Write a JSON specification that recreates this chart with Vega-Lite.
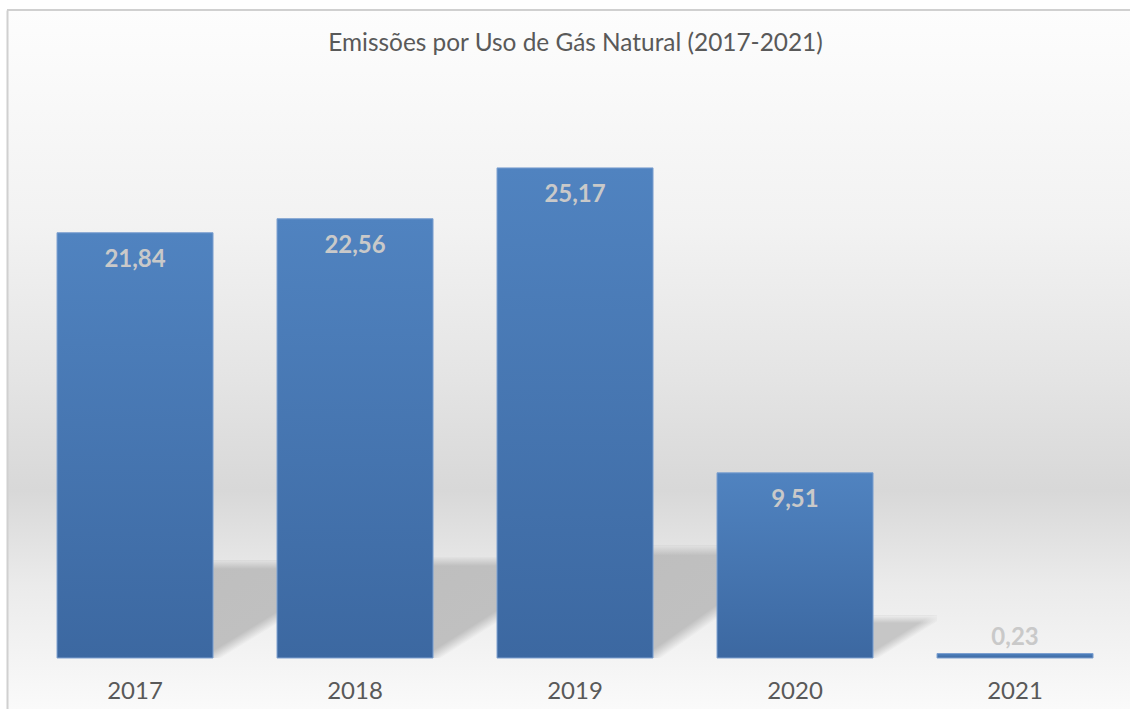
{
  "$schema": "https://vega.github.io/schema/vega-lite/v6.json",
  "width": 1123,
  "height": 699,
  "autosize": {"type": "none"},
  "padding": {"left": 7, "top": 10, "right": 0, "bottom": 0},
  "background": "white",
  "title": {
    "text": "Emissões por Uso de Gás Natural (2017-2021)",
    "font": "Lato",
    "fontSize": 24.4,
    "fontWeight": "normal",
    "color": "#595959",
    "offset": -59,
    "dx": 7,
    "baseline": "middle",
    "anchor": "middle",
    "frame": "group"
  },
  "config": {
    "locale": {"number": {"decimal": ",", "thousands": ".", "grouping": [3], "currency": ["R$", ""]}},
    "view": {
      "stroke": null,
      "fill": {
        "gradient": "linear", "x1": 0, "y1": 0, "x2": 0, "y2": 1,
        "stops": [
          {"offset": 0, "color": "#fdfdfd"},
          {"offset": 0.309, "color": "#f2f2f2"},
          {"offset": 0.515, "color": "#e5e5e5"},
          {"offset": 0.687, "color": "#d8d8d8"},
          {"offset": 0.824, "color": "#ebebeb"},
          {"offset": 1, "color": "#fafafa"}
        ]
      }
    }
  },
  "data": {
    "values": [
      {"ano": "2017", "emissoes": 21.84},
      {"ano": "2018", "emissoes": 22.56},
      {"ano": "2019", "emissoes": 25.17},
      {"ano": "2020", "emissoes": 9.51},
      {"ano": "2021", "emissoes": 0.23}
    ]
  },
  "encoding": {
    "x": {
      "field": "ano",
      "type": "nominal",
      "title": null,
      "scale": {"paddingInner": 0.2909, "paddingOuter": 0.1977, "align": 0.575},
      "axis": {
        "domain": false,
        "ticks": false,
        "grid": false,
        "labelAngle": 0,
        "labelFont": "Lato",
        "labelFontSize": 24,
        "labelColor": "#595959",
        "labelPadding": 33,
        "labelBaseline": "middle",
        "offset": -51
      }
    }
  },
  "layer": [
    {
      "transform": [{"filter": "datum.emissoes >= 15"}],
      "mark": {
        "type": "bar",
        "width": 64,
        "xOffset": 110,
        "fill": {
          "gradient": "linear", "x1": 0.04, "y1": 1.1, "x2": -0.4, "y2": 0,
          "stops": [
            {"offset": 0, "color": "rgba(190,190,190,0)"},
            {"offset": 0.05, "color": "rgba(190,190,190,0)"},
            {"offset": 0.15, "color": "rgba(192,192,192,1)"},
            {"offset": 1, "color": "rgba(190,190,190,1)"}
          ]
        }
      },
      "encoding": {
        "y": {"field": "emissoes", "type": "quantitative", "axis": null,
              "scale": {"domain": [-11.39, 144.7], "nice": false, "zero": false}}
      }
    },
    {
      "transform": [{"filter": "datum.emissoes >= 15"}],
      "mark": {
        "type": "bar",
        "width": 64,
        "xOffset": 110,
        "fill": {
          "gradient": "linear", "x1": 0, "y1": 0, "x2": 0, "y2": 1,
          "stops": [
            {"offset": 0, "color": "rgba(226,226,226,1)"},
            {"offset": 0.09, "color": "rgba(226,226,226,0)"},
            {"offset": 1, "color": "rgba(226,226,226,0)"}
          ]
        }
      },
      "encoding": {
        "y": {"field": "emissoes", "type": "quantitative", "axis": null,
              "scale": {"domain": [-11.39, 144.7], "nice": false, "zero": false}}
      }
    },
    {
      "transform": [{"filter": "datum.emissoes >= 1 && datum.emissoes < 15"}],
      "mark": {
        "type": "bar",
        "width": 64,
        "xOffset": 110,
        "fill": {
          "gradient": "linear", "x1": 0.093, "y1": 1.1, "x2": -0.93, "y2": 0,
          "stops": [
            {"offset": 0, "color": "rgba(196,196,196,0)"},
            {"offset": 0.05, "color": "rgba(196,196,196,0)"},
            {"offset": 0.17, "color": "rgba(198,198,198,1)"},
            {"offset": 1, "color": "rgba(198,198,198,1)"}
          ]
        }
      },
      "encoding": {
        "y": {"field": "emissoes", "type": "quantitative", "axis": null,
              "scale": {"domain": [-11.39, 144.7], "nice": false, "zero": false}}
      }
    },
    {
      "transform": [{"filter": "datum.emissoes >= 1 && datum.emissoes < 15"}],
      "mark": {
        "type": "bar",
        "width": 64,
        "xOffset": 110,
        "fill": {
          "gradient": "linear", "x1": 0, "y1": 0, "x2": 0, "y2": 1,
          "stops": [
            {"offset": 0, "color": "rgba(238,238,238,1)"},
            {"offset": 0.18, "color": "rgba(238,238,238,0)"},
            {"offset": 1, "color": "rgba(238,238,238,0)"}
          ]
        }
      },
      "encoding": {
        "y": {"field": "emissoes", "type": "quantitative", "axis": null,
              "scale": {"domain": [-11.39, 144.7], "nice": false, "zero": false}}
      }
    },
    {
      "mark": {
        "type": "bar",
        "stroke": "#7da0d0",
        "strokeWidth": 1,
        "fill": {
          "gradient": "linear", "x1": 0, "y1": 0, "x2": 0, "y2": 1,
          "stops": [
            {"offset": 0, "color": "#5083c0"},
            {"offset": 1, "color": "#3c68a1"}
          ]
        }
      },
      "encoding": {
        "y": {"field": "emissoes", "type": "quantitative",
              "scale": {"domain": [-2.62, 33.28], "nice": false, "zero": false},
              "axis": {"orient": "left", "domain": true, "domainColor": "#d0d0d0", "domainWidth": 2, "labels": false, "ticks": false, "grid": false, "title": null}}
      }
    },
    {
      "data": {"values": [{"topo": 33.28}]},
      "mark": {"type": "rule", "color": "#d0d0d0", "strokeWidth": 2},
      "encoding": {
        "x": null,
        "y": {"field": "topo", "type": "quantitative", "axis": null,
              "scale": {"domain": [-2.62, 33.28], "nice": false, "zero": false}}
      }
    },
    {
      "transform": [{"filter": "datum.emissoes >= 1"}],
      "mark": {"type": "text", "dy": 27, "baseline": "middle", "font": "Lato", "fontSize": 24, "fontWeight": "bold", "color": "#c9c9c9"},
      "encoding": {
        "y": {"field": "emissoes", "type": "quantitative", "axis": null,
              "scale": {"domain": [-2.62, 33.28], "nice": false, "zero": false}},
        "text": {"field": "emissoes", "type": "quantitative", "format": ".2f"}
      }
    },
    {
      "transform": [{"filter": "datum.emissoes < 1"}],
      "mark": {"type": "text", "dy": -16, "baseline": "middle", "font": "Lato", "fontSize": 24, "fontWeight": "bold", "color": "#c9c9c9"},
      "encoding": {
        "y": {"field": "emissoes", "type": "quantitative", "axis": null,
              "scale": {"domain": [-2.62, 33.28], "nice": false, "zero": false}},
        "text": {"field": "emissoes", "type": "quantitative", "format": ".2f"}
      }
    }
  ],
  "resolve": {"scale": {"y": "independent"}}
}
